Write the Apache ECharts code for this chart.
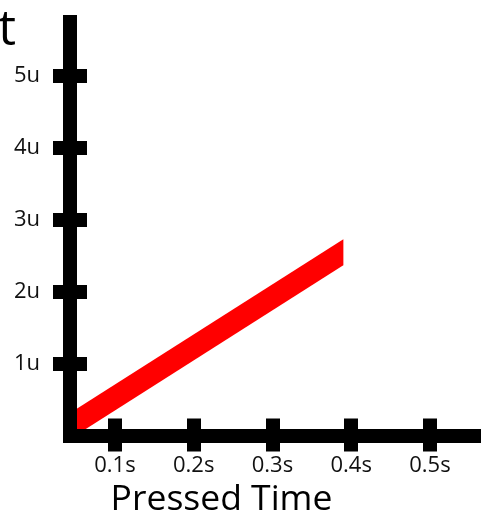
<!DOCTYPE html>
<html>
<head>
<meta charset="utf-8">
<script src="https://cdn.jsdelivr.net/npm/echarts@6/dist/echarts.min.js"></script>
<style>html,body{margin:0;padding:0;background:#fff;}#c{width:481px;height:512px;}</style>
</head>
<body>
<div id="c"></div>
<script>
// Data
var times = [0.05, 0.39];          // pressed time (s)
var lowerEdge = [0, 2.37];         // lower edge of band (u)
var upperEdge = [0.36, 2.73];      // upper edge of band (u)
var xTickValues = [0.1, 0.2, 0.3, 0.4, 0.5];
var xTickLabels = ['0.1s', '0.2s', '0.3s', '0.4s', '0.5s'];
var yTickValues = [1, 2, 3, 4, 5];
var yTickLabels = ['1u', '2u', '3u', '4u', '5u'];
var xName = 'Pressed Time';
var yName = 't';

var FONT = 'Open Sans';
var xMin = 0.0429, xMax = 0.5648, yMin = 0, yMax = 5.753;

function fmt(values, labels) {
  return function (v) {
    for (var i = 0; i < values.length; i++) if (Math.abs(values[i] - v) < 1e-6) return labels[i];
    return '';
  };
}

var chart = echarts.init(document.getElementById('c'), null, {renderer: 'canvas'});
var bandData = times.map(function (t, i) { return [t, lowerEdge[i], upperEdge[i]]; });

function renderBand(params, api) {
  var i = params.dataIndex;
  if (i >= bandData.length - 1) return null;
  var a = bandData[i], b = bandData[i + 1];
  var pts = [
    api.coord([a[0], a[1]]),
    api.coord([b[0], b[1]]),
    api.coord([b[0], b[2]]),
    api.coord([a[0], a[2]])
  ];
  var cs = params.coordSys;
  var clipped = echarts.graphic.clipPointsByRect(pts, {x: cs.x, y: cs.y, width: cs.width, height: cs.height});
  return {
    type: 'polygon',
    shape: {points: clipped},
    style: {fill: '#ff0000'}
  };
}

chart.setOption({
  animation: false,
  backgroundColor: '#fff',
  grid: {left: 70, right: 0, top: 22, bottom: 76.5, containLabel: false, outerBoundsMode: 'none'},
  xAxis: [{
    type: 'value', min: xMin, max: xMax, z: 10,
    axisLine: {show: true, lineStyle: {color: '#000', width: 14, cap: 'square'}},
    axisTick: {show: true, inside: false, length: 16, customValues: xTickValues, lineStyle: {color: '#000', width: 14}},
    axisLabel: {show: true, customValues: xTickValues, formatter: fmt(xTickValues, xTickLabels), margin: 19, color: '#111', fontFamily: FONT, fontSize: 22},
    splitLine: {show: false},
    name: xName, nameLocation: 'middle', nameGap: 42,
    nameTextStyle: {color: '#000', fontFamily: FONT, fontSize: 35.5, padding: [0, 108, 0, 0]}
  }, {
    type: 'value', min: xMin, max: xMax, z: 10, position: 'bottom',
    axisLine: {show: false},
    axisTick: {show: true, inside: true, length: 17, customValues: xTickValues, lineStyle: {color: '#000', width: 14}},
    axisLabel: {show: false},
    splitLine: {show: false}
  }],
  yAxis: [{
    type: 'value', min: yMin, max: yMax, z: 10,
    axisLine: {show: true, lineStyle: {color: '#000', width: 14, cap: 'square'}},
    axisTick: {show: true, inside: false, length: 17, customValues: yTickValues, lineStyle: {color: '#000', width: 14}},
    axisLabel: {show: true, customValues: yTickValues, formatter: fmt(yTickValues, yTickLabels), margin: 30, color: '#111', fontFamily: FONT, fontSize: 22},
    splitLine: {show: false},
    name: yName, nameLocation: 'end', nameGap: -34,
    nameTextStyle: {color: '#000', fontFamily: FONT, fontSize: 50, align: 'right', padding: [0, 54, 0, 0]}
  }, {
    type: 'value', min: yMin, max: yMax, z: 10, position: 'left',
    axisLine: {show: false},
    axisTick: {show: true, inside: true, length: 17, customValues: yTickValues, lineStyle: {color: '#000', width: 14}},
    axisLabel: {show: false},
    splitLine: {show: false}
  }],
  series: [{
    type: 'custom', xAxisIndex: 0, yAxisIndex: 0,
    data: bandData, encode: {x: 0, y: [1, 2]},
    renderItem: renderBand, z: 2, silent: true
  }]
});
</script>
</body>
</html>
